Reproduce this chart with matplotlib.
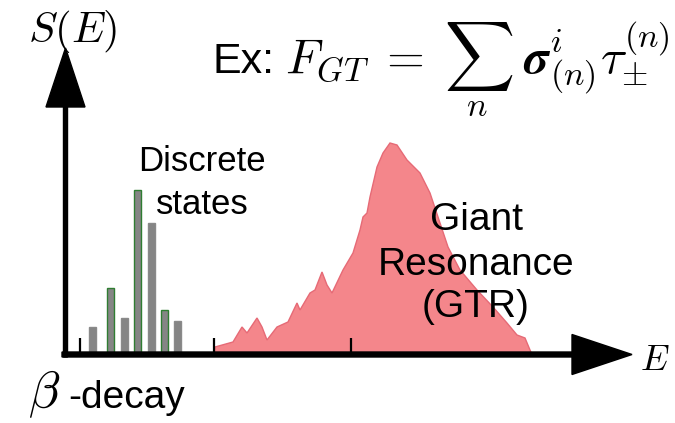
import matplotlib
matplotlib.use("Agg")
import matplotlib.pyplot as plt

plt.rcParams['mathtext.fontset'] = 'cm'
plt.rcParams['font.family'] = ['Liberation Sans', 'DejaVu Sans']

# ---- data (schematic units: energy E to the right, strength S upward) ----
bar_E = [27, 44.5, 58.5, 72, 85.5, 98.5, 111.5]
bar_S = [28, 67, 37, 165, 132, 45, 34]

gtr_E = [148.5, 149.5, 167.5, 176.5, 181.5, 191.5, 196.5, 201.5, 211.5, 222.5,
         231.5, 234.5, 244.5, 249.5, 256.5, 261.5, 266.5, 277.5, 287.5, 294.5,
         297.5, 301.5, 304.5, 311.5, 317.5, 324.5, 331.5, 341.5, 354.5, 364.5,
         374.5, 382.5, 394.5, 411.5, 427.5, 441.5, 451.5, 459.5, 464.5, 466.5]
gtr_S = [0, 7.5, 12.5, 27.5, 21.5, 36.5, 27.5, 14.5, 27.5, 32.5,
         51.5, 44.5, 61.5, 64.5, 82.5, 69.5, 61.5, 84.5, 101.5, 124.5,
         137.5, 141.5, 157.5, 187.5, 201.5, 211.5, 209.5, 194.5, 181.5, 161.5,
         131.5, 107.5, 84.5, 64.5, 47.5, 31.5, 19.5, 16.5, 4.5, 0]

tick_E = [14.5, 148.5, 285.5]

# ---- figure ----
fig = plt.figure(figsize=(6.75, 4.23), dpi=100)
ax = fig.add_axes([0, 0, 1, 1])
ax.set_xlim(-65.5, 675 - 65.5)
ax.set_ylim(-(423 - 354.5), 354.5)
ax.axis('off')

# GTR bump
ax.fill(gtr_E, gtr_S, facecolor='#f4868b', edgecolor='#e66a76', lw=1.0, zorder=2)

# discrete states
edge_cols = ['#8a8a8a', '#2f7d32', '#8a8a8a', '#2f7d32', '#8a8a8a', '#2f7d32', '#8a8a8a']
ax.bar(bar_E, bar_S, width=7, color='#858585', edgecolor=edge_cols, linewidth=1.0, zorder=3)

# ticks
for t in tick_E:
    ax.plot([t, t], [0, 17], color='black', lw=1.6, zorder=4, solid_capstyle='butt')

# axes arrows
ax.arrow(-3.5, 0, 570, 0, width=5, head_width=40, head_length=60,
         length_includes_head=True, color='black', zorder=5)
ax.arrow(0, -2.5, 0, 309, width=4, head_width=39, head_length=59,
         length_includes_head=True, color='black', zorder=5)

# labels
ax.text(7, 312.5, r'$S(E)$', fontsize=31, ha='center', va='baseline')
ax.text(574.5, -15.5, r'$E$', fontsize=26, ha='left', va='baseline')
ax.text(-37.5, -53.5, r'$\beta$', fontsize=37, ha='left', va='baseline')
ax.text(2.5, -53.5, '-decay', fontsize=28, ha='left', va='baseline')

ax.text(136.5, 183.5, 'Discrete', fontsize=25, ha='center', va='baseline')
ax.text(136.5, 140.5, 'states', fontsize=25, ha='center', va='baseline')

ax.text(410.5, 124.5, 'Giant', fontsize=28, ha='center', va='baseline')
ax.text(410.5, 79.5, 'Resonance', fontsize=28, ha='center', va='baseline')
ax.text(410.5, 37.5, '(GTR)', fontsize=28, ha='center', va='baseline')

ax.text(146.5, 281.5, 'Ex:', fontsize=31, ha='left', va='baseline')
ax.text(219.5, 281.5,
        r'$F_{GT}\;=\;\sum_{n}{}\ \boldsymbol{\sigma}^{i}_{(n)}\tau^{(n)}_{\pm}$',
        fontsize=35, ha='left', va='baseline')

fig.savefig('out.png', dpi=100)
